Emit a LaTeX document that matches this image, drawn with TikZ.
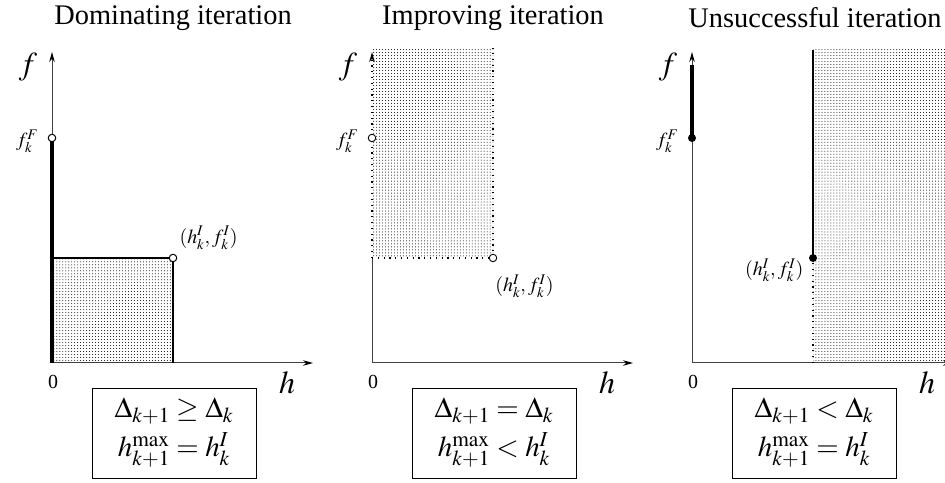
\documentclass[tikz,border=0pt]{standalone}
\usepackage{mathptmx}
\usepackage[no-math]{fontspec}
\setmainfont{Liberation Serif}
\usetikzlibrary{arrows.meta, patterns, positioning}

\tikzset{
  axis/.style={draw=black!75, line width=1bp, -{Stealth[length=10bp, width=5.5bp, color=black]}},
  boldseg/.style={line width=3.6bp},
  region/.style={pattern=dots, pattern color=black},
  dotline/.style={line width=1.8bp, dash pattern=on 1.2bp off 4.6bp},
  opendot/.style={circle, draw, fill=white, line width=1bp, inner sep=0pt, minimum size=7.5bp},
  fulldot/.style={circle, fill=black, inner sep=0pt, minimum size=8bp},
  ringdot/.style={circle, draw, fill=white, line width=0.9bp, inner sep=0pt, minimum size=7.5bp,
    path picture={\fill (path picture bounding box.center) circle (1.2bp);}},
  small/.style={font=\fontsize{20}{22}\selectfont},
  axlabel/.style={font=\fontsize{32}{34}\selectfont},
  heading/.style={font=\fontsize{28.5}{30}\selectfont},
  infobox/.style={draw, line width=0.9bp, minimum width=164bp, minimum height=90bp,
    align=center, inner sep=2bp, font=\fontsize{29}{31}\selectfont}
}

\begin{document}
\begin{tikzpicture}[x=1bp, y=1bp]
  \useasboundingbox (0,0) rectangle (945,483);

  % Dominating iteration
  \begin{scope}[shift={(52,120)}]
    \fill[region] (0,0) rectangle (121,105);
    \draw[axis] (0,0) -- (0,311) coordinate (top1);
    \draw[axis] (0,0) -- (261,0) coordinate (right1);
    \draw[line width=1.6bp] (0,105) -| (121,0);
    \draw[boldseg] (0,0) -- (0,225);
    \node[opendot] (fF1) at (0,225) {};
    \node[opendot] (fI1) at (121,105) {};
    \node[small, left=6bp of fF1, yshift=-3bp] (fFlab1) {$f_k^F$};
    \node[small, above right=2bp and 0bp of fI1] (fIlab1) {$(h_k^I,f_k^I)$};
    \node[small] (zero1) at (1,-19) {0};
    \node[axlabel] (h1) at (235,-20) {$h$};
    \node[axlabel] (f1) at (-24,296) {$f$};
    \node[heading] (title1) at (121,345) {Dominating iteration};
    \node[infobox] (box1) at (122,-70) {$\Delta_{k+1} \geq \Delta_k$\\[7bp]$h_{k+1}^{\max} = h_k^I$};
  \end{scope}

  % Improving iteration
  \begin{scope}[shift={(372,120)}]
    \fill[region] (0,105) rectangle (121,315);
    \draw[axis, -] (0,0) -- (0,105);
    \draw[axis] (0,0) -- (261,0) coordinate (right2);
    \draw[dotline] (0,105) -- (121,105) -- (121,315);
    \draw[dotline, -{Stealth[length=10bp, width=5.5bp]}] (0,105) -- (0,311) coordinate (top2);
    \node[ringdot] (fF2) at (0,225) {};
    \node[ringdot] (fI2) at (121,105) {};
    \node[small, left=6bp of fF2, yshift=-3bp] (fFlab2) {$f_k^F$};
    \node[small, below right=10bp and -4bp of fI2] (fIlab2) {$(h_k^I,f_k^I)$};
    \node[small] (zero2) at (1,-19) {0};
    \node[axlabel] (h2) at (235,-20) {$h$};
    \node[axlabel] (f2) at (-24,296) {$f$};
    \node[heading] (title2) at (121,345) {Improving iteration};
    \node[infobox] (box2) at (122,-70) {$\Delta_{k+1} = \Delta_k$\\[7bp]$h_{k+1}^{\max} < h_k^I$};
  \end{scope}

  % Unsuccessful iteration
  \begin{scope}[shift={(692,120)}]
    \fill[region] (121,0) rectangle (253,313);
    \draw[axis] (0,0) -- (0,311) coordinate (top3);
    \draw[axis] (0,0) -- (261,0) coordinate (right3);
    \draw[boldseg] (0,225) -- (0,298);
    \draw[line width=2.6bp] (121,105) -- (121,313);
    \draw[dotline] (121,0) -- (121,105);
    \node[fulldot] (fF3) at (0,225) {};
    \node[fulldot] (fI3) at (121,105) {};
    \node[small, left=6bp of fF3, yshift=-3bp] (fFlab3) {$f_k^F$};
    \node[small, left=2bp of fI3, yshift=-12bp] (fIlab3) {$(h_k^I,f_k^I)$};
    \node[small] (zero3) at (1,-19) {0};
    \node[axlabel] (h3) at (235,-20) {$h$};
    \node[axlabel] (f3) at (-24,296) {$f$};
    \node[heading] (title3) at (123,345) {Unsuccessful iteration};
    \node[infobox] (box3) at (122,-70) {$\Delta_{k+1} < \Delta_k$\\[7bp]$h_{k+1}^{\max} = h_k^I$};
  \end{scope}
\end{tikzpicture}
\end{document}
